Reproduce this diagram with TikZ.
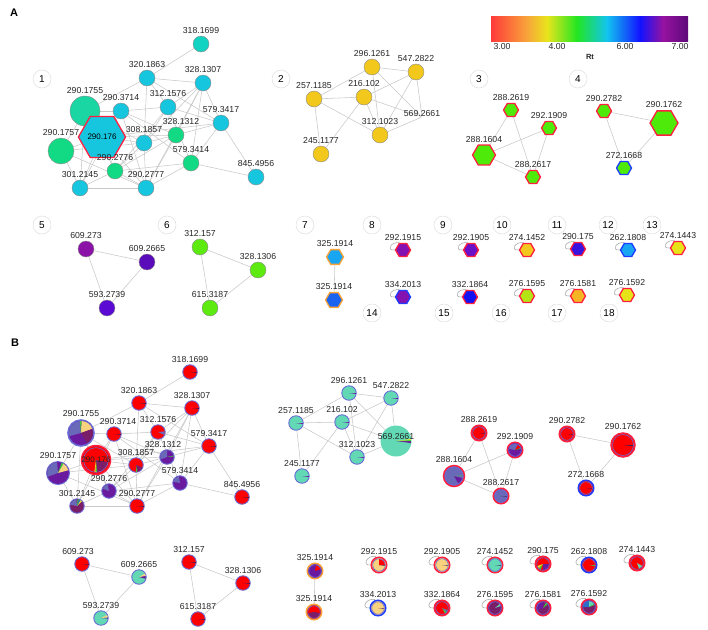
\documentclass[tikz,border=0pt]{standalone}
\usepackage{fontspec}
\setmainfont{Liberation Sans}
\usepackage{xcolor}
\usetikzlibrary{positioning,shapes.geometric,backgrounds}

\definecolor{cyanA}{HTML}{16C6DE}
\definecolor{tealA}{HTML}{12D2C2}
\definecolor{tealB}{HTML}{1AD6A2}
\definecolor{greenA}{HTML}{12DA84}
\definecolor{goldA}{HTML}{F2C81C}
\definecolor{limeA}{HTML}{4EEB0A}
\definecolor{limeB}{HTML}{5CEA10}
\definecolor{purA}{HTML}{8A12A6}
\definecolor{purB}{HTML}{5A0CBA}
\definecolor{purC}{HTML}{5A0AD2}
\definecolor{skyA}{HTML}{18A6F2}
\definecolor{blueA}{HTML}{1A62F0}
\definecolor{purD}{HTML}{8412B0}
\definecolor{purE}{HTML}{6A10C6}
\definecolor{goldB}{HTML}{F2C81E}
\definecolor{indigoA}{HTML}{3A12E0}
\definecolor{yellowA}{HTML}{E6E418}
\definecolor{blueB}{HTML}{1212F2}
\definecolor{ygreen}{HTML}{B4E414}
\definecolor{orangeA}{HTML}{F6B624}
\definecolor{hexred}{HTML}{FF2040}
\definecolor{hexblue}{HTML}{1E3CFF}
\definecolor{hexorange}{HTML}{F8A238}
\definecolor{edgegray}{HTML}{C8C8C8}
\definecolor{pred}{HTML}{FF0000}
\definecolor{ppur}{HTML}{6A1A9E}
\definecolor{pslate}{HTML}{6A68B8}
\definecolor{pcream}{HTML}{F8D27E}
\definecolor{paqua}{HTML}{62D9B4}
\definecolor{pmag}{HTML}{7A1E6A}
\definecolor{pgreen}{HTML}{38D038}
\definecolor{pyellow}{HTML}{E8E030}
\definecolor{pblue}{HTML}{2A70C8}
\definecolor{pdark}{HTML}{3A1E5A}
\definecolor{ringslate}{HTML}{6A6AD6}
\definecolor{cbred}{HTML}{FF3A3A}
\definecolor{cborange}{HTML}{F8A43A}
\definecolor{cbyellow}{HTML}{E8E41C}
\definecolor{cbgreen}{HTML}{22E622}
\definecolor{cbcyan}{HTML}{12C4F0}
\definecolor{cbblue}{HTML}{1212FF}
\definecolor{cbmag}{HTML}{9612A0}
\definecolor{cbdark}{HTML}{5E0A7A}

\newcommand\lblfont{\fontsize{8.7}{9}\selectfont}
% one pie slice: node, start, end, radius (pt), colour
\newcommand\slice[5]{\fill[#5] (#1.center) -- ++(#2:#4pt) arc[start angle=#2, end angle=#3, radius=#4pt] -- cycle;}
\newcommand\sliver[2]{\slice{#1}{-7}{0}{#2}{pdark}}
\newcommand\ringin[2]{\draw[ringslate, line width=0.6pt] (#1.center) circle[radius=#2pt];}

\tikzset{
  edgeline/.style={draw=edgegray, line width=0.55pt},
  loopline/.style={draw=black!35, line width=0.55pt},
  lbl/.style={font=\lblfont, inner sep=0pt, text=black!85},
  dot/.style={circle, draw=black!45, line width=0.4pt, inner sep=0pt, minimum size=16pt},
  hexa/.style={regular polygon, regular polygon sides=6, inner sep=0pt, minimum size=15pt, line width=1.3pt, label distance=3.5pt},
  tag/.style={circle, draw=black!13, line width=0.5pt, inner sep=0pt, minimum size=18pt, font=\fontsize{10}{10}\selectfont},
  pie/.style={circle, draw=ringslate, line width=0.9pt, inner sep=0pt, minimum size=14.5pt},
  ringo/.style={circle, draw=#1, line width=1.5pt, inner sep=0pt, minimum size=15.5pt},
  cbl/.style={font=\fontsize{8.7}{9}\selectfont, inner sep=0pt, text=black!85},
}

\begin{document}
\begin{tikzpicture}[x=1pt, y=-1pt, every label/.append style={lbl}, label distance=2pt]
\useasboundingbox (0,0) rectangle (708,629);

\node[font=\bfseries\fontsize{11}{12}\selectfont] (pa) at (14,13) {A};
\node[font=\bfseries\fontsize{11}{12}\selectfont] (pb) at (15,343) {B};

% colour scale
\foreach \xa/\xb/\ca/\cb in {491/527/cbred/cborange, 527/547/cborange/cbyellow, 547/577/cbyellow/cbgreen,
  577/607/cbgreen/cbcyan, 607/640/cbcyan/cbblue, 640/663/cbblue/cbmag, 663/688/cbmag/cbdark}
  \shade[left color=\ca, right color=\cb] (\xa,16) rectangle (\xb,41);
\node[cbl] (s3) at (502,47) {3.00};
\node[cbl] (s4) at (557,47) {4.00};
\node[cbl] (s6) at (625,47) {6.00};
\node[cbl] (s7) at (680,47) {7.00};
\node[cbl, font=\bfseries\fontsize{7.5}{8}\selectfont] (rt) at (590,57) {Rt};

% group numbers
\foreach \n/\x/\y in {1/42/79, 2/281/79, 3/479/79, 4/578/79, 5/42/225, 6/167/225, 7/305/225,
  8/372/225, 9/443/225, 10/502/225, 11/557/225, 12/608/225, 13/652/225,
  14/372/313, 15/444/313, 16/501/313, 17/557/313, 18/609/313}
  \node[tag] (t\n) at (\x,\y) {\n};

% ---------- A: Rt colouring ----------
\node[dot, fill=tealA, label=above:318.1699] (a318) at (201,44) {};
\node[dot, fill=cyanA, label=above:320.1863] (a320) at (147,78) {};
\node[dot, fill=cyanA, label=above:328.1307] (a328a) at (203,83) {};
\node[dot, fill=tealB, minimum size=30pt, label=above:290.1755] (a290a) at (85,111) {};
\node[dot, fill=cyanA, label=above:290.3714] (a290d) at (121,111) {};
\node[dot, fill=cyanA, label=above:312.1576] (a312) at (168,107) {};
\node[dot, fill=cyanA, label=above:579.3417] (a579a) at (221,123) {};
\node[dot, fill=greenA, label={[xshift=5pt]above:328.1312}] (a328b) at (176,135) {};
\node[dot, fill=greenA, minimum size=26pt, label=above:290.1757] (a290b) at (61,151) {};
\node[hexa, fill=cyanA, draw=hexred, minimum size=31pt, font=\fontsize{8}{8}\selectfont] (a290c) at (102,137) {290.176};
\node[dot, fill=cyanA, label=above:308.1857] (a308) at (144,143) {};
\node[dot, fill=greenA, label=above:579.3414] (a579b) at (191,163) {};
\node[dot, fill=greenA, label=above:290.2776] (a290e) at (115,171) {};
\node[dot, fill=cyanA, label=above:845.4956] (a845) at (256,177) {};
\node[dot, fill=cyanA, label=above:301.2145] (a301) at (80,188) {};
\node[dot, fill=cyanA, label=above:290.2777] (a290f) at (146,188) {};

\node[dot, fill=goldA, label=above:296.1261] (a296) at (372,67) {};
\node[dot, fill=goldA, label=above:547.2822] (a547) at (416,72) {};
\node[dot, fill=goldA, label=above:257.1185] (a257) at (314,99) {};
\node[dot, fill=goldA, label=above:216.102] (a216) at (364,97) {};
\node[inner sep=0pt, minimum size=1pt, label={[label distance=0pt]above:569.2661}] (a569) at (422,117) {};
\node[dot, fill=goldA, label=above:312.1023] (a312x) at (380,135) {};
\node[dot, fill=goldA, label=above:245.1177] (a245) at (321,154) {};

\node[hexa, fill=limeA, draw=hexred, label=above:288.2619] (a288a) at (511,110) {};
\node[hexa, fill=limeA, draw=hexred, label=above:292.1909] (a292) at (549,128) {};
\node[hexa, fill=limeA, draw=hexred, minimum size=23pt, label=above:288.1604] (a288b) at (484,155) {};
\node[hexa, fill=limeA, draw=hexred, label=above:288.2617] (a288c) at (533,177) {};
\node[hexa, fill=limeA, draw=hexred, label=above:290.2782] (a290g) at (604,111) {};
\node[hexa, fill=limeA, draw=hexred, minimum size=28pt, label=above:290.1762] (a290h) at (664,123) {};
\node[hexa, fill=limeA, draw=hexblue, label=above:272.1668] (a272) at (624,168) {};

\node[dot, fill=purA, label=above:609.273] (a609a) at (86,249) {};
\node[dot, fill=purB, label=above:609.2665] (a609b) at (147,262) {};
\node[dot, fill=purC, label=above:593.2739] (a593) at (107,308) {};
\node[dot, fill=limeB, label=above:312.157] (a312y) at (200,247) {};
\node[dot, fill=limeB, label=above:328.1306] (a328c) at (258,270) {};
\node[dot, fill=limeB, label=above:615.3187] (a615) at (210,308) {};
\node[hexa, fill=skyA, draw=hexorange, minimum size=17pt, label=above:325.1914] (a325a) at (335,257) {};
\node[hexa, fill=blueA, draw=hexorange, minimum size=17pt, label=above:325.1914] (a325b) at (334,300) {};

\node[hexa, fill=purD, draw=hexred, label=above:292.1915] (a292a) at (403,250) {};
\node[hexa, fill=purE, draw=hexred, label=above:292.1905] (a292b) at (471,250) {};
\node[hexa, fill=goldB, draw=hexred, label=above:274.1452] (a274a) at (527,250) {};
\node[hexa, fill=indigoA, draw=hexred, label=above:290.175] (a290i) at (578,249) {};
\node[hexa, fill=skyA, draw=hexblue, label=above:262.1808] (a262) at (628,250) {};
\node[hexa, fill=yellowA, draw=hexred, label=above:274.1443] (a274b) at (678,248) {};
\node[hexa, fill=purD, draw=hexblue, label=above:334.2013] (a334) at (403,297) {};
\node[hexa, fill=blueB, draw=hexred, label=above:332.1864] (a332) at (470,297) {};
\node[hexa, fill=ygreen, draw=hexred, label=above:276.1595] (a276a) at (527,296) {};
\node[hexa, fill=orangeA, draw=hexred, label=above:276.1581] (a276b) at (578,296) {};
\node[hexa, fill=yellowA, draw=hexred, label=above:276.1592] (a276c) at (627,295) {};

% ---------- B: sample pies ----------
\node[pie, fill=pred, label=above:318.1699] (b318) at (190,372) {};
\node[pie, fill=pred, label=above:320.1863] (b320) at (139,403) {};
\node[pie, fill=pred, label=above:328.1307] (b328a) at (192,408) {};
\node[pie, fill=ppur, minimum size=26pt, line width=1.6pt, label=above:290.1755] (b290a) at (81,433) {};
\node[pie, fill=pred, label={[xshift=4pt]above:290.3714}] (b290d) at (114,434) {};
\node[pie, fill=pred, label=above:312.1576] (b312) at (158,432) {};
\node[pie, fill=pred, label=above:579.3417] (b579a) at (209,446) {};
\node[pie, fill=ppur, label={[xshift=-4pt]above:328.1312}] (b328b) at (167,457) {};
\node[ringo=hexred, fill=pred, minimum size=29pt] (b290c) at (96,460) {};
\node[pie, fill=ppur, minimum size=23pt, label=above:290.1757] (b290b) at (58,473) {};
\node[pie, fill=pred, label=above:308.1857] (b308) at (136,465) {};
\node[pie, fill=ppur, label=above:579.3414] (b579b) at (180,483) {};
\node[pie, fill=ppur, label=above:290.2776] (b290e) at (109,491) {};
\node[pie, fill=pred, label=above:845.4956] (b845) at (242,497) {};
\node[pie, fill=pmag, label=above:301.2145] (b301) at (77,506) {};
\node[pie, fill=pred, label=above:290.2777] (b290f) at (137,506) {};

\node[pie, fill=paqua, label=above:296.1261] (b296) at (349,393) {};
\node[pie, fill=paqua, label=above:547.2822] (b547) at (391,398) {};
\node[pie, fill=paqua, label=above:257.1185] (b257) at (296,423) {};
\node[pie, fill=paqua, label=above:216.102] (b216) at (342,422) {};
\node[pie, fill=paqua, draw=none, minimum size=31pt] (b569) at (396,441) {};
\node[pie, fill=paqua, label=above:312.1023] (b312x) at (357,457) {};
\node[pie, fill=paqua, label=above:245.1177] (b245) at (302,476) {};

\node[ringo=hexred, fill=pred, label=above:288.2619] (b288a) at (479,433) {};
\node[ringo=hexred, fill=ppur, label=above:292.1909] (b292) at (515,450) {};
\node[ringo=hexred, fill=pslate, minimum size=21pt, label=above:288.1604] (b288b) at (454,476) {};
\node[ringo=hexred, fill=pslate, label=above:288.2617] (b288c) at (501,496) {};
\node[ringo=hexred, fill=pred, label=above:290.2782] (b290g) at (567,434) {};
\node[ringo=hexred, fill=pred, minimum size=24pt, label=above:290.1762] (b290h) at (623,445) {};
\node[ringo=hexblue, fill=pred, label=above:272.1668] (b272) at (586,488) {};

\node[pie, fill=pred, label={[xshift=-4pt]above:609.273}] (b609a) at (82,564) {};
\node[pie, fill=paqua, label=above:609.2665] (b609b) at (139,577) {};
\node[pie, fill=paqua, label=above:593.2739] (b593) at (101,618) {};
\node[pie, fill=pred, label=above:312.157] (b312y) at (189,562) {};
\node[pie, fill=pred, label=above:328.1306] (b328c) at (243,583) {};
\node[pie, fill=pred, label=above:615.3187] (b615) at (198,619) {};
\node[ringo=hexorange, fill=ppur, label=above:325.1914] (b325a) at (315,571) {};
\node[ringo=hexorange, fill=pred, label=above:325.1914] (b325b) at (314,612) {};

\node[ringo=hexred, fill=pcream, label=above:292.1915] (b292a) at (379,565) {};
\node[ringo=hexred, fill=pcream, label=above:292.1905] (b292b) at (442,565) {};
\node[ringo=hexred, fill=paqua, label=above:274.1452] (b274a) at (495,565) {};
\node[ringo=hexred, fill=pred, label=above:290.175] (b290i) at (543,564) {};
\node[ringo=hexblue, fill=pred, label=above:262.1808] (b262) at (589,565) {};
\node[ringo=hexred, fill=pred, label=above:274.1443] (b274b) at (637,563) {};
\node[ringo=hexblue, fill=pcream, label=above:334.2013] (b334) at (378,608) {};
\node[ringo=hexred, fill=pred, label=above:332.1864] (b332) at (442,608) {};
\node[ringo=hexred, fill=pmag, label=above:276.1595] (b276a) at (495,608) {};
\node[ringo=hexred, fill=pmag, label=above:276.1581] (b276b) at (543,608) {};
\node[ringo=hexred, fill=pmag, label=above:276.1592] (b276c) at (589,607) {};

% pie slices
\foreach \n in {b318,b320,b328a,b290d,b579a,b845,b290f,b312y,b328c,b615,b609a} {\sliver{\n}{6.8}}
\foreach \n in {b296,b547,b257,b216,b312x,b245} {\slice{\n}{-8}{0}{6.8}{ppur}}
\slice{b312}{-25}{5}{6.8}{pslate}
\slice{b290a}{95}{195}{12}{pslate}
\slice{b290a}{20}{88}{12}{pcream}
\slice{b290a}{88}{95}{12}{pgreen}
\slice{b290a}{300}{380}{12}{pmag}
\slice{b328b}{90}{200}{6.8}{pslate}
\slice{b328b}{5}{12}{6.8}{pgreen}
\slice{b290c}{275}{350}{12}{pmag}
\slice{b290c}{268}{275}{12}{pgreen}
\slice{b290c}{262}{268}{12}{pyellow}
\slice{b290b}{95}{200}{10.8}{pslate}
\slice{b290b}{15}{60}{10.8}{pcream}
\slice{b290b}{60}{70}{10.8}{pgreen}
\slice{b308}{280}{340}{6.8}{pmag}
\slice{b308}{272}{280}{6.8}{pgreen}
\slice{b579b}{100}{170}{6.8}{pslate}
\slice{b290e}{100}{160}{6.8}{pslate}
\slice{b301}{95}{170}{6.8}{pslate}
\slice{b301}{45}{60}{6.8}{pyellow}
\slice{b301}{60}{75}{6.8}{pblue}
\slice{b301}{75}{85}{6.8}{pgreen}
\slice{b569}{-8}{0}{15}{ppur}
\slice{b569}{0}{4}{15}{pgreen}
\slice{b569}{4}{8}{15}{pyellow}
\slice{b292}{60}{170}{6}{pslate}
\slice{b292}{20}{60}{6}{pred}
\slice{b292}{14}{20}{6}{pgreen}
\slice{b288b}{300}{345}{8.6}{ppur}
\slice{b288b}{0}{4}{8.6}{pgreen}
\foreach \n in {b288a,b288c,b290g,b272,b292b,b274a,b334} {\sliver{\n}{6}}
\sliver{b290h}{10}
\slice{b609b}{-15}{10}{6.8}{ppur}
\slice{b609b}{10}{30}{6.8}{pcream}
\slice{b593}{-5}{5}{6.8}{ppur}
\slice{b593}{5}{25}{6.8}{pcream}
\slice{b325a}{20}{80}{6}{pred}
\slice{b325b}{190}{350}{6}{pmag}
\slice{b292a}{0}{90}{6}{pred}
\sliver{b292a}{6}
\slice{b290i}{270}{360}{6}{ppur}
\slice{b290i}{200}{225}{6}{pyellow}
\slice{b290i}{225}{245}{6}{pgreen}
\slice{b262}{-10}{0}{6}{pgreen}
\slice{b274b}{290}{330}{6}{paqua}
\slice{b332}{300}{320}{6}{pgreen}
\slice{b332}{320}{340}{6}{pslate}
\slice{b276a}{20}{40}{6}{paqua}
\slice{b276b}{90}{200}{6}{ppur}
\slice{b276b}{40}{60}{6}{pgreen}
\slice{b276c}{90}{180}{6}{pblue}
\slice{b276c}{30}{90}{6}{paqua}
\slice{b276c}{20}{30}{6}{pgreen}
% inner rings of the hexagon-derived pies
\foreach \n in {b288a,b292,b288c,b290g,b272,b325a,b325b,b292a,b292b,b274a,b290i,b262,b274b,b334,b332,b276a,b276b,b276c} {\ringin{\n}{6.3}}
\ringin{b290c}{12.4}
\ringin{b288b}{9}
\ringin{b290h}{10.5}
\node[lbl, font=\fontsize{8}{8}\selectfont] (l290c) at (b290c) {290.176};
\node[lbl] (l569) at (396,436) {569.2661};

% connectors
\begin{scope}[on background layer]
\foreach \p in {a,b} {
  \foreach \u/\v in {318/320, 320/328a, 320/290a, 320/312, 320/579a, 320/308, 328a/312, 328a/579a,
    328a/328b, 328a/579b, 328a/290f, 328a/308, 290a/290d, 290a/290c, 290a/290b, 290a/308, 290a/290e,
    290a/301, 290d/312, 290d/290c, 290d/290f, 290d/579b, 290d/328b, 312/579a, 312/290e, 312/308,
    312/579b, 579a/328b, 579a/845, 579a/579b, 579a/290c, 290b/290c, 290b/308, 290b/290f, 290b/301,
    290c/308, 290c/290e, 290c/301, 290c/290f, 290c/328b, 308/290e, 308/290f, 308/328b, 328b/290f,
    328b/290e, 579b/845, 579b/290e, 579b/290f, 290e/301, 290e/290f, 301/290f, 301/290d,
    296/547, 296/257, 296/312x, 296/569, 547/216, 547/312x, 547/569, 257/216, 257/312x, 257/245,
    216/245, 216/312x, 216/569, 312x/569,
    288a/288b, 288a/288c, 292/288b, 292/288c, 288b/288c, 290g/290h, 290g/272, 290h/272,
    609a/609b, 609a/593, 609b/593, 312y/328c, 312y/615, 328c/615, 325a/325b}
    \draw[edgeline] (\p\u) -- (\p\v);
  \foreach \u in {292a,292b,274a,290i,262,274b,334,332,276a,276b,276c}
    \draw[loopline] (\p\u.west) .. controls +(-9,1) and +(-9,-2) .. ([xshift=-3pt]\p\u.north);
}
\end{scope}
\end{tikzpicture}
\end{document}
